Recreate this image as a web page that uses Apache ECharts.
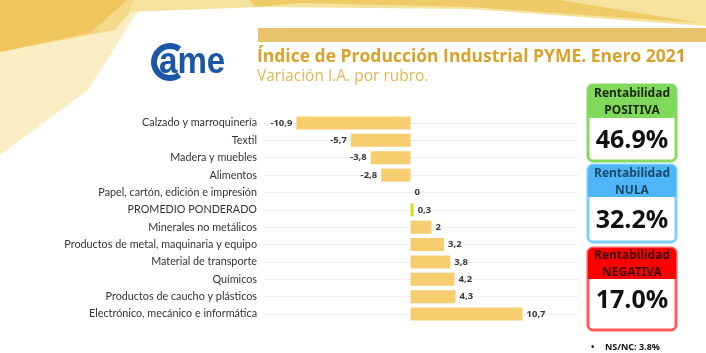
<!DOCTYPE html>
<html>
<head>
<meta charset="utf-8">
<script src="https://cdn.jsdelivr.net/npm/echarts@6/dist/echarts.min.js"></script>
<style>
  html, body { margin: 0; padding: 0; background: #fff; }
  #chart { width: 706px; height: 353px; }
</style>
</head>
<body>
<div id="chart"></div>
<script>
// rubros y variación i.a. (%)
const rubros = [
  'Calzado y marroquinería',
  'Textil',
  'Madera y muebles',
  'Alimentos',
  'Papel, cartón, edición e impresión',
  'PROMEDIO PONDERADO',
  'Minerales no metálicos',
  'Productos de metal, maquinaria y equipo',
  'Material de transporte',
  'Químicos',
  'Productos de caucho y plásticos',
  'Electrónico, mecánico e informática'
];
const variacion = [-10.9, -5.7, -3.8, -2.8, 0, 0.3, 2, 3.2, 3.8, 4.2, 4.3, 10.7];

// cajas de rentabilidad
const rentTitulos = ['POSITIVA', 'NULA', 'NEGATIVA'];
const rentValores = ['46.9%', '32.2%', '17.0%'];
const nsnc = 'NS/NC: 3.8%';

const BAR = '#f6cd6f';
const PROM = '#d6dd1e';
const FONT = 'Open Sans';

const chart = echarts.init(document.getElementById('chart'));

const datos = variacion.map(function (v, i) {
  return {
    value: v,
    itemStyle: { color: rubros[i] === 'PROMEDIO PONDERADO' ? PROM : BAR },
    label: { position: v < 0 ? 'left' : 'right' }
  };
});

// cajas
const cajas = [
  { y: 85, h: 76, head: 33, fill: '#7fd95a', border: '#86d960', txt: '#1e2a14', valY: 141 },
  { y: 165, h: 77, head: 32, fill: '#4db6f7', border: '#80ceff', txt: '#1b4a6a', valY: 221 },
  { y: 248, h: 82, head: 31, fill: '#ff0000', border: '#ff5b5b', txt: '#3a0000', valY: 301 }
];
const cajaGraphics = [];
cajas.forEach(function (c, i) {
  cajaGraphics.push({
    type: 'rect', shape: { x: 588, y: c.y, width: 88, height: c.h, r: 5 },
    style: { fill: '#fff', stroke: c.border, lineWidth: 3 }
  });
  cajaGraphics.push({
    type: 'rect', shape: { x: 588, y: c.y, width: 88, height: c.head, r: [5, 5, 0, 0] },
    style: { fill: c.fill }
  });
  cajaGraphics.push({
    type: 'text', x: 632, y: c.y + c.head / 2 + 1,
    style: {
      text: 'Rentabilidad\n' + rentTitulos[i], fill: c.txt, align: 'center', verticalAlign: 'middle',
      font: 'bold 12px "Noto Sans"', lineHeight: 17
    }
  });
  cajaGraphics.push({
    type: 'text', x: 632, y: c.valY,
    style: {
      text: rentValores[i], fill: '#111', align: 'center', verticalAlign: 'middle',
      font: '700 25px "' + FONT + '"'
    }
  });
});

const option = {
  animation: false,
  backgroundColor: '#fff',
  title: {
    text: 'Índice de Producción Industrial PYME. Enero 2021',
    subtext: 'Variación I.A. por rubro.',
    left: 257, top: 48, itemGap: 3, padding: 0,
    textStyle: { fontFamily: FONT, fontSize: 17.5, fontWeight: 'bold', color: '#d9a22b' },
    subtextStyle: { fontFamily: FONT, fontSize: 15.5, color: '#e4b851' }
  },
  graphic: [
    // fondo decorativo
    { type: 'polygon', z: -5, shape: { points: [[0, 0], [145, 0], [88, 90], [0, 155]] }, style: { fill: '#fbeec4' } },
    { type: 'polygon', z: -4, shape: { points: [[0, 0], [140, 0], [115, 30], [0, 52]] }, style: { fill: '#f5d98a' } },
    { type: 'polygon', z: -3, shape: { points: [[0, 0], [127, 0], [90, 33], [0, 52]] }, style: { fill: '#efc65e' } },
    { type: 'polygon', z: -4, shape: { points: [[135, 0], [706, 0], [706, 26], [470, 9], [260, 7], [128, 12]] }, style: { fill: '#f5e29c' } },
    { type: 'polygon', z: -3, shape: { points: [[250, 0], [560, 0], [700, 23], [470, 7], [300, 3], [255, 7]] }, style: { fill: '#eecb66' } },
    // barra del título
    { type: 'rect', shape: { x: 258, y: 28, width: 448, height: 14 }, style: { fill: '#e8c26c' } },
    // logo
    { type: 'arc', shape: { cx: 170, cy: 62, r: 16, startAngle: Math.PI * 0.3, endAngle: Math.PI * 1.7 },
      style: { stroke: '#1b57a8', lineWidth: 6, fill: null } },
    { type: 'text', x: 159, y: 63, scaleX: 0.92,
      style: { text: 'ame', fill: '#1b57a8', font: 'bold 36px "Liberation Sans"', verticalAlign: 'middle' } },
    // NS/NC
    { type: 'text', x: 591, y: 347, style: { text: '•', fill: '#111', font: 'bold 9px "' + FONT + '"', verticalAlign: 'middle' } },
    { type: 'text', x: 605, y: 347, style: { text: nsnc, fill: '#111', font: 'bold 9px "' + FONT + '"', verticalAlign: 'middle' } }
  ].concat(cajaGraphics),
  grid: { left: 264, right: 128, top: 123, height: 191, containLabel: false },
  xAxis: {
    type: 'value', min: -14, max: 16,
    show: false
  },
  yAxis: {
    type: 'category', data: rubros, inverse: true, boundaryGap: false,
    axisLine: { show: false }, axisTick: { show: false },
    axisLabel: { margin: 7, fontFamily: 'Lato', fontSize: 10.8, color: '#333' },
    splitLine: { show: true, lineStyle: { color: '#eeeeee', width: 1 } }
  },
  series: [{
    type: 'bar', data: datos, barWidth: 13,
    label: {
      show: true, distance: 4, fontFamily: FONT, fontSize: 9.5, fontWeight: 'bold', color: '#3a3a3a',
      formatter: function (p) { return String(p.value).replace('.', ','); }
    }
  }]
};

chart.setOption(option);
</script>
</body>
</html>
